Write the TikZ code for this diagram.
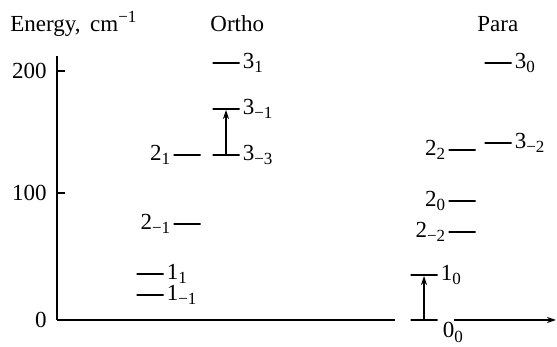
\documentclass[tikz,border=0pt]{standalone}
\usepackage{fontspec}
\setmainfont{Liberation Serif}
\usepackage{tikz}
\usetikzlibrary{arrows.meta,positioning}

\newcommand{\jk}[2]{#1\raisebox{-0.45ex}{\fontsize{8.5}{9}\selectfont #2}}

\begin{document}
\begin{tikzpicture}[x=0.5pt, y=-0.5pt,
    font=\fontsize{11.5}{13}\selectfont,
    level/.style={rectangle, draw, line width=1pt, minimum width=13.5pt, minimum height=0pt, inner sep=0pt},
    lbl/.style={inner sep=1pt},
    title/.style={anchor=base west, inner sep=0pt},
    axis/.style={line width=0.7pt},
    arrow/.style={-{Stealth[length=4.5pt, width=3pt]}, line width=0.6pt}
]
\useasboundingbox (0,0) rectangle (557,347);

% Titles
\node[title] (energy) at (10,32) {Energy,\, cm\raisebox{0.9ex}{\fontsize{8.5}{9}\selectfont −1}};
\node[title] (ortho) at (210,32) {Ortho};
\node[title] (para) at (477,32) {Para};

% Axes
\coordinate (orig) at (57,320);
\coordinate (ytop) at (57,56);
\coordinate (xend) at (556,320);
\draw[axis] (ytop) -- (orig);
\draw[axis, -{Stealth[length=4.5pt, width=3pt]}] (orig) -- (xend);

% Ticks
\draw[axis] (57,71) -- (65,71);
\draw[axis] (57,193) -- (65,193);
\node[anchor=east, inner sep=1pt] (t200) at (49,71) {200};
\node[anchor=east, inner sep=1pt] (t100) at (49,193) {100};
\node[anchor=east, inner sep=1pt] (t0) at (49,320) {0};

% Ortho levels
\node[level, label={[lbl]right:\jk{3}{1}}] (o31) at (226,63) {};
\node[level, label={[lbl]right:\jk{3}{−1}}] (o3m1) at (226,109) {};
\node[level, label={[lbl]right:\jk{3}{−3}}] (o3m3) at (226,155) {};
\node[level, label={[lbl]left:\jk{2}{1}}] (o21) at (187,155) {};
\node[level, label={[lbl]left:\jk{2}{−1}}] (o2m1) at (187,224) {};
\node[level, label={[lbl]right:\jk{1}{1}}] (o11) at (150,274) {};
\node[level, label={[lbl]right:\jk{1}{−1}}] (o1m1) at (150,295) {};

% Para levels
\draw[white, line width=3pt] (395,320) -- (454,320);
\node[level, label={[lbl]right:\jk{3}{0}}] (p30) at (498,63) {};
\node[level, label={[lbl]right:\jk{3}{−2}}] (p3m2) at (498,143) {};
\node[level, label={[lbl]left:\jk{2}{2}}] (p22) at (462,150) {};
\node[level, label={[lbl]left:\jk{2}{0}}] (p20) at (462,201) {};
\node[level, label={[lbl]left:\jk{2}{−2}}] (p2m2) at (462,232) {};
\node[level, label={[lbl]right:\jk{1}{0}}] (p10) at (424,275) {};
\node[level] (p00) at (424,320) {};
\node[lbl, anchor=north west] (l00) at ([xshift=1pt]p00.east) {\jk{0}{0}};

% Transitions
\draw[arrow] (o3m3) -- (o3m1);
\draw[arrow] (p00) -- (p10);

\end{tikzpicture}
\end{document}
